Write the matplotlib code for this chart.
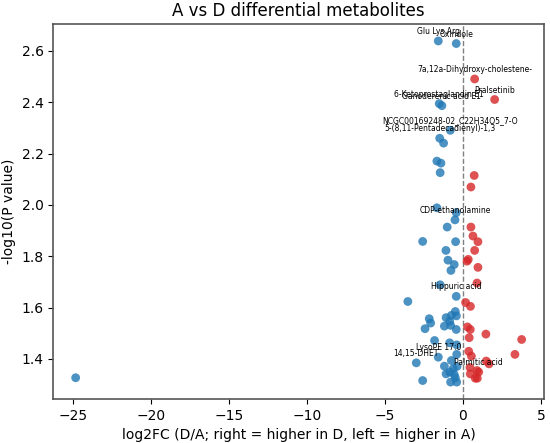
import matplotlib
matplotlib.use("Agg")
import matplotlib.pyplot as plt

# Up-regulated in D (log2FC > 0)
red_x = [0.75, 2.03, 0.72, 0.51, 0.51, 0.64, 0.96, 0.75, 0.26, 0.34, 0.96, 0.90,
         0.17, 0.48, 0.29, 0.47, 1.47, 3.76, 0.40, 0.37, 0.54, 1.49, 1.67, 3.33,
         0.45, 0.90, 1.01, 0.47, 0.79, 0.92]
red_y = [2.491, 2.411, 2.115, 2.070, 1.914, 1.879, 1.857, 1.823, 1.781, 1.788, 1.757, 1.696,
         1.620, 1.605, 1.525, 1.515, 1.497, 1.476, 1.483, 1.430, 1.411, 1.392, 1.381, 1.418,
         1.367, 1.355, 1.349, 1.342, 1.325, 1.325]

# Higher in A (log2FC < 0)
blue_x = [-1.58, -0.43, -1.52, -1.35, -0.81, -1.49, -1.24, -1.67, -1.41, -1.46,
          -1.67, -0.43, -0.51, -1.01, -2.58, -0.47, -1.09, -0.96, -0.56, -0.77,
          -1.46, -3.53, -0.43, -0.49, -0.42, -0.74, -1.08, -0.85, -2.16, -2.07,
          -2.43, -1.19, -0.79, -0.43, -1.82, -0.85, -0.40, -1.58, -0.40, -2.99,
          -0.74, -1.19, -0.63, -1.08, -0.85, -0.56, -0.49, -0.79, -0.40, -2.58,
          -24.81, -0.38]
blue_y = [2.639, 2.629, 2.395, 2.387, 2.291, 2.260, 2.241, 2.171, 2.163, 2.126,
          1.989, 1.970, 1.942, 1.914, 1.858, 1.857, 1.823, 1.785, 1.768, 1.745,
          1.689, 1.624, 1.644, 1.585, 1.568, 1.570, 1.561, 1.547, 1.557, 1.540,
          1.518, 1.528, 1.531, 1.515, 1.472, 1.463, 1.455, 1.407, 1.418, 1.385,
          1.394, 1.372, 1.362, 1.342, 1.349, 1.340, 1.327, 1.310, 1.310, 1.316,
          1.327, 1.371]

# Annotated metabolites
label_names = ["Glu Lys Arg", "Oxindole", "7a,12a-Dihydroxy-cholestene-", "Pralsetinib",
               "6-Ketoprostaglandin E1", "Ganoderenic acid E1",
               "NCGC00169248-02_C22H34O5_7-O", "5-(8,11-Pentadecadienyl)-1,3",
               "CDP-ethanolamine", "Hippuric acid", "LysoPE 17:0", "14,15-DHET",
               "Palmitic acid"]
label_x = [-1.58, -0.43, 0.75, 2.03, -1.52, -1.35, -0.81, -1.49, -0.51, -0.43, -1.58, -2.99, 1.01]
label_y = [2.639, 2.629, 2.491, 2.411, 2.395, 2.387, 2.291, 2.260, 1.942, 1.644, 1.407, 1.385, 1.349]

fig = plt.figure(figsize=(5.5, 4.43), dpi=100)
ax = fig.add_axes([0.097, 0.099, 0.892, 0.847])

ax.scatter(blue_x, blue_y, s=40, color="#1f77b4", alpha=0.8, edgecolors="none", zorder=2)
ax.scatter(red_x, red_y, s=40, color="#d62728", alpha=0.8, edgecolors="none", zorder=2)
ax.axvline(0, color="gray", linestyle="--", linewidth=1, zorder=1)

for name, lx, ly in zip(label_names, label_x, label_y):
    ax.annotate(name, (lx, ly), xytext=(0, 3.5), textcoords="offset points",
                ha="center", va="bottom", fontsize=5.5, zorder=3)

ax.set_title("A vs D differential metabolites", fontsize=12)
ax.set_xlabel("log2FC (D/A; right = higher in D, left = higher in A)", fontsize=10)
ax.set_ylabel("-log10(P value)", fontsize=10)
for sp in ax.spines.values():
    sp.set_color("#555555")
    sp.set_linewidth(1.2)

fig.savefig("out.png", dpi=100)
